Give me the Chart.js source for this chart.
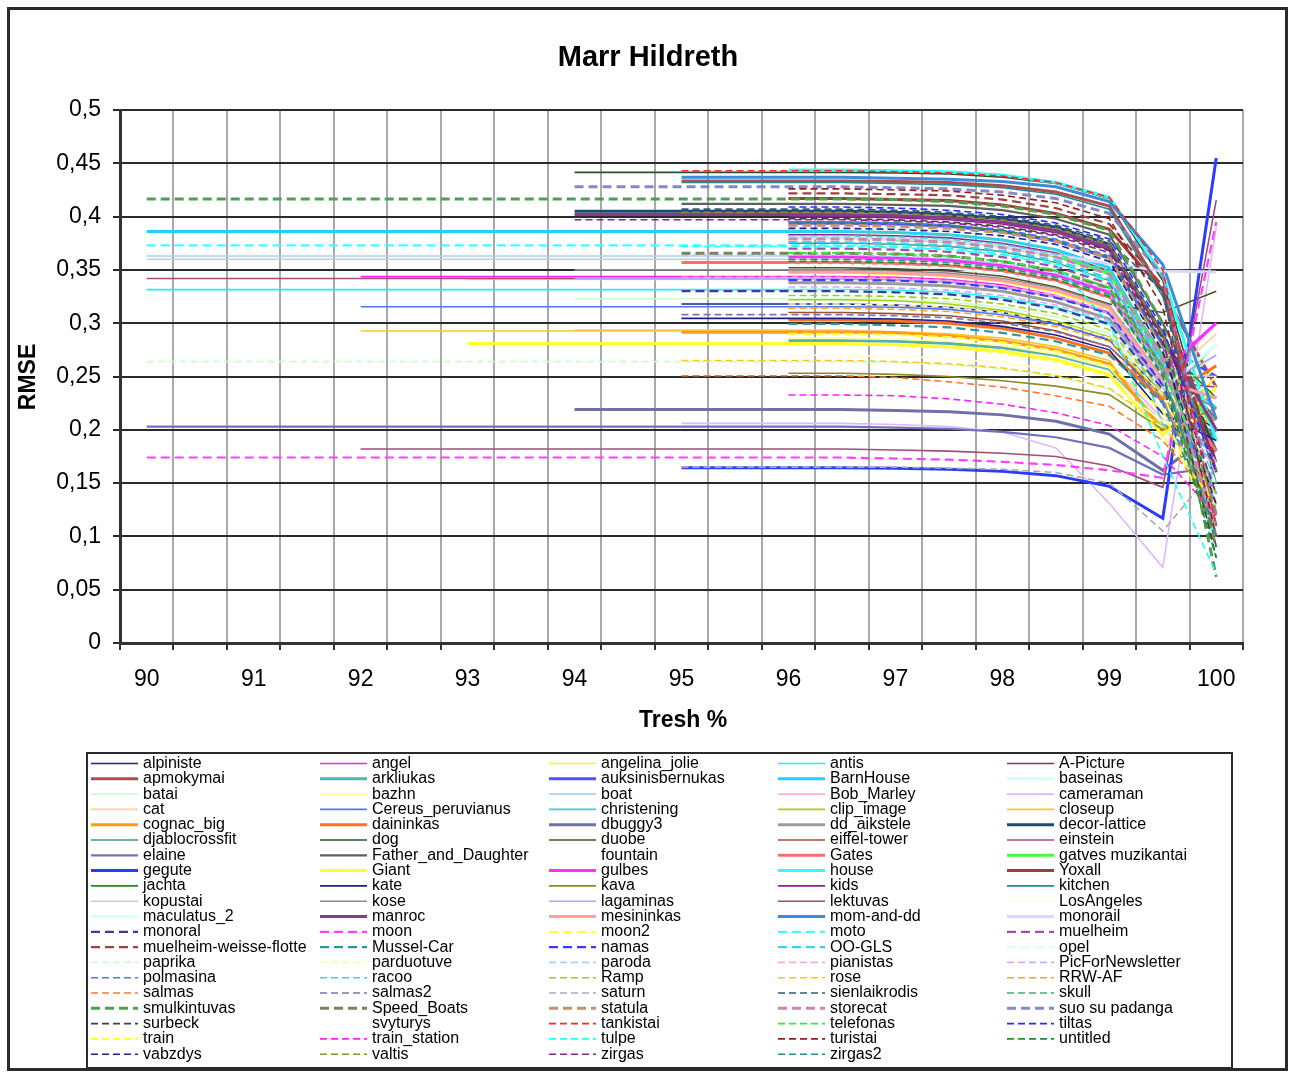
<!DOCTYPE html>
<html>
<head>
<meta charset="utf-8">
<script src="https://cdn.jsdelivr.net/npm/chart.js@4.4.0/dist/chart.umd.min.js"></script>
<style>
  html, body { margin: 0; padding: 0; background: #fff; }
  #wrap { width: 1293px; height: 1073px; position: relative; }
</style>
</head>
<body>
<div id="wrap"><canvas id="chart" width="1293" height="1073"></canvas></div>
<script>
// x categories (threshold %), only whole numbers get a label
const categories = ['90', '90.5', '91', '91.5', '92', '92.5', '93', '93.5', '94', '94.5', '95',
  '95.5', '96', '96.5', '97', '97.5', '98', '98.5', '99', '99.5', '100'];
const yTicks = [0, 0.05, 0.1, 0.15, 0.2, 0.25, 0.3, 0.35, 0.4, 0.45, 0.5];

const seriesNames = [
  'alpiniste', 'angel', 'angelina_jolie', 'antis', 'A-Picture',
  'apmokymai', 'arkliukas', 'auksinisbernukas', 'BarnHouse', 'baseinas',
  'batai', 'bazhn', 'boat', 'Bob_Marley', 'cameraman',
  'cat', 'Cereus_peruvianus', 'christening', 'clip_image', 'closeup',
  'cognac_big', 'daininkas', 'dbuggy3', 'dd_aikstele', 'decor-lattice',
  'djablocrossfit', 'dog', 'duobe', 'eiffel-tower', 'einstein',
  'elaine', 'Father_and_Daughter', 'fountain', 'Gates', 'gatves muzikantai',
  'gegute', 'Giant', 'gulbes', 'house', 'Yoxall',
  'jachta', 'kate', 'kava', 'kids', 'kitchen',
  'kopustai', 'kose', 'lagaminas', 'lektuvas', 'LosAngeles',
  'maculatus_2', 'manroc', 'mesininkas', 'mom-and-dd', 'monorail',
  'monoral', 'moon', 'moon2', 'moto', 'muelheim',
  'muelheim-weisse-flotte', 'Mussel-Car', 'namas', 'OO-GLS', 'opel',
  'paprika', 'parduotuve', 'paroda', 'pianistas', 'PicForNewsletter',
  'polmasina', 'racoo', 'Ramp', 'rose', 'RRW-AF',
  'salmas', 'salmas2', 'saturn', 'sienlaikrodis', 'skull',
  'smulkintuvas', 'Speed_Boats', 'statula', 'storecat', 'suo su padanga',
  'surbeck', 'svyturys', 'tankistai', 'telefonas', 'tiltas',
  'train', 'train_station', 'tulpe', 'turistai', 'untitled',
  'vabzdys', 'valtis', 'zirgas', 'zirgas2'
];

// first threshold that has a value for each series
const startAt = [
  95, 92, 96, 90, 96,   95, 96, 96, 90, 96,   94, 96, 90, 94, 95,   93, 92, 95, 96, 92,
  95, 96, 94, 96, 94,   96, 94, 96, 96, 90,   90, 95, 96, 95, 97,   95, 93, 96, 96, 96,
  96, 95, 96, 96, 95,   90, 94, 94, 92, 96,   96, 94, 96, 95, 96,   95, 90, 96, 90, 96,
  96, 96, 96, 96, 96,   90, 96, 95, 95, 96,   96, 96, 96, 95, 96,   95, 95, 95, 95, 96,
  90, 95, 96, 96, 94,   96, 96, 95, 96, 96,   96, 96, 95, 96, 96,   96, 95, 94, 96
];

// flat RMSE level held from the start up to 96.5
const plateau = [
  0.318, 0.3437, 0.347, 0.3315, 0.383,   0.4334, 0.2836, 0.3937, 0.386, 0.355,
  0.323, 0.286, 0.363, 0.2935, 0.206,   0.341, 0.3155, 0.386, 0.322, 0.2927,
  0.2915, 0.303, 0.219, 0.338, 0.405,   0.375, 0.4415, 0.352, 0.31, 0.342,
  0.203, 0.412, 0.36, 0.357, 0.378,   0.1645, 0.281, 0.362, 0.4437, 0.417,
  0.395, 0.3045, 0.253, 0.4, 0.432,   0.36, 0.35, 0.342, 0.182, 0.27,
  0.33, 0.402, 0.348, 0.437, 0.38,   0.33, 0.174, 0.29, 0.373, 0.37,
  0.4218, 0.2993, 0.3405, 0.376, 0.39,   0.264, 0.318, 0.364, 0.343, 0.334,
  0.395, 0.382, 0.326, 0.265, 0.314,   0.2507, 0.308, 0.165, 0.407, 0.366,
  0.4165, 0.3656, 0.392, 0.379, 0.428,   0.398, 0.355, 0.443, 0.366, 0.409,
  0.28, 0.2326, 0.372, 0.426, 0.358,   0.389, 0.404, 0.397, 0.36
];

// values at 97, 97.5, 98, 98.5, 99, 99.5, 100
const tailLabels = ['97', '97.5', '98', '98.5', '99', '99.5', '100'];
const tails = [
  [0.317, 0.315, 0.310, 0.300, 0.284, 0.235, 0.200],
  [0.343, 0.341, 0.336, 0.326, 0.310, 0.250, 0.300],
  [0.346, 0.344, 0.339, 0.329, 0.313, 0.245, 0.230],
  [0.331, 0.329, 0.324, 0.315, 0.300, 0.240, 0.190],
  [0.382, 0.380, 0.375, 0.366, 0.349, 0.270, 0.210],
  [0.433, 0.432, 0.429, 0.423, 0.410, 0.330, 0.240],
  [0.283, 0.281, 0.277, 0.270, 0.257, 0.205, 0.180],
  [0.393, 0.391, 0.386, 0.377, 0.361, 0.280, 0.250],
  [0.385, 0.383, 0.378, 0.369, 0.352, 0.265, 0.220],
  [0.354, 0.352, 0.347, 0.338, 0.322, 0.250, 0.240],
  [0.322, 0.320, 0.315, 0.306, 0.290, 0.235, 0.270],
  [0.285, 0.283, 0.279, 0.271, 0.258, 0.205, 0.260],
  [0.362, 0.360, 0.355, 0.346, 0.330, 0.255, 0.220],
  [0.292, 0.289, 0.284, 0.276, 0.262, 0.210, 0.200],
  [0.205, 0.203, 0.198, 0.183, 0.131, 0.071, 0.390],
  [0.340, 0.338, 0.333, 0.324, 0.309, 0.245, 0.290],
  [0.315, 0.313, 0.308, 0.299, 0.285, 0.225, 0.150],
  [0.385, 0.383, 0.378, 0.369, 0.345, 0.205, 0.170],
  [0.321, 0.318, 0.312, 0.302, 0.287, 0.230, 0.280],
  [0.292, 0.290, 0.286, 0.278, 0.265, 0.195, 0.250],
  [0.291, 0.288, 0.283, 0.275, 0.262, 0.200, 0.210],
  [0.302, 0.300, 0.295, 0.286, 0.272, 0.228, 0.260],
  [0.218, 0.217, 0.214, 0.208, 0.196, 0.162, 0.200],
  [0.337, 0.335, 0.330, 0.320, 0.304, 0.240, 0.210],
  [0.404, 0.402, 0.398, 0.390, 0.374, 0.290, 0.180],
  [0.374, 0.372, 0.367, 0.357, 0.340, 0.262, 0.190],
  [0.441, 0.440, 0.437, 0.431, 0.417, 0.340, 0.170],
  [0.351, 0.349, 0.344, 0.334, 0.318, 0.310, 0.330],
  [0.309, 0.307, 0.302, 0.293, 0.278, 0.232, 0.230],
  [0.341, 0.339, 0.334, 0.325, 0.309, 0.245, 0.240],
  [0.202, 0.201, 0.198, 0.193, 0.183, 0.158, 0.165],
  [0.411, 0.410, 0.406, 0.398, 0.383, 0.300, 0.200],
  [0.359, 0.357, 0.352, 0.343, 0.327, 0.255, 0.200],
  [0.356, 0.354, 0.349, 0.340, 0.324, 0.255, 0.180],
  [0.378, 0.377, 0.372, 0.363, 0.347, 0.268, 0.200],
  [0.164, 0.163, 0.161, 0.157, 0.147, 0.117, 0.455],
  [0.280, 0.278, 0.274, 0.266, 0.252, 0.195, 0.240],
  [0.361, 0.359, 0.354, 0.345, 0.329, 0.255, 0.300],
  [0.443, 0.442, 0.439, 0.432, 0.418, 0.345, 0.190],
  [0.416, 0.415, 0.411, 0.403, 0.388, 0.330, 0.160],
  [0.394, 0.392, 0.387, 0.378, 0.362, 0.280, 0.230],
  [0.304, 0.302, 0.297, 0.289, 0.275, 0.215, 0.190],
  [0.252, 0.250, 0.246, 0.241, 0.233, 0.200, 0.220],
  [0.399, 0.397, 0.393, 0.385, 0.369, 0.288, 0.170],
  [0.431, 0.430, 0.427, 0.421, 0.407, 0.325, 0.150],
  [0.359, 0.357, 0.352, 0.343, 0.327, 0.252, 0.250],
  [0.349, 0.347, 0.342, 0.333, 0.317, 0.248, 0.220],
  [0.341, 0.339, 0.334, 0.325, 0.309, 0.242, 0.270],
  [0.181, 0.180, 0.178, 0.175, 0.166, 0.146, 0.4155],
  [0.269, 0.267, 0.263, 0.256, 0.244, 0.208, 0.250],
  [0.329, 0.327, 0.322, 0.313, 0.298, 0.238, 0.280],
  [0.401, 0.399, 0.395, 0.387, 0.371, 0.288, 0.200],
  [0.347, 0.345, 0.340, 0.331, 0.315, 0.246, 0.230],
  [0.436, 0.435, 0.433, 0.428, 0.414, 0.355, 0.210],
  [0.379, 0.377, 0.372, 0.364, 0.356, 0.349, 0.348],
  [0.329, 0.327, 0.322, 0.314, 0.299, 0.238, 0.120],
  [0.173, 0.172, 0.170, 0.167, 0.162, 0.155, 0.395],
  [0.289, 0.287, 0.282, 0.274, 0.260, 0.218, 0.100],
  [0.372, 0.370, 0.365, 0.356, 0.339, 0.262, 0.090],
  [0.369, 0.367, 0.362, 0.353, 0.337, 0.258, 0.130],
  [0.421, 0.420, 0.416, 0.408, 0.393, 0.335, 0.110],
  [0.298, 0.296, 0.291, 0.283, 0.270, 0.225, 0.100],
  [0.340, 0.338, 0.333, 0.324, 0.309, 0.242, 0.140],
  [0.375, 0.373, 0.368, 0.359, 0.342, 0.262, 0.120],
  [0.389, 0.387, 0.382, 0.373, 0.357, 0.275, 0.130],
  [0.263, 0.261, 0.257, 0.250, 0.238, 0.202, 0.150],
  [0.317, 0.315, 0.310, 0.301, 0.286, 0.232, 0.130],
  [0.363, 0.361, 0.356, 0.347, 0.331, 0.254, 0.140],
  [0.342, 0.340, 0.335, 0.326, 0.311, 0.245, 0.160],
  [0.333, 0.331, 0.326, 0.317, 0.302, 0.240, 0.170],
  [0.394, 0.392, 0.388, 0.379, 0.363, 0.278, 0.110],
  [0.381, 0.379, 0.374, 0.365, 0.349, 0.268, 0.150],
  [0.325, 0.323, 0.318, 0.309, 0.294, 0.236, 0.130],
  [0.264, 0.262, 0.258, 0.251, 0.239, 0.204, 0.140],
  [0.313, 0.311, 0.306, 0.297, 0.283, 0.230, 0.120],
  [0.249, 0.245, 0.240, 0.232, 0.222, 0.190, 0.130],
  [0.307, 0.305, 0.300, 0.292, 0.278, 0.228, 0.110],
  [0.165, 0.164, 0.163, 0.160, 0.150, 0.105, 0.165],
  [0.406, 0.404, 0.400, 0.392, 0.377, 0.330, 0.090],
  [0.365, 0.363, 0.358, 0.349, 0.333, 0.256, 0.100],
  [0.416, 0.414, 0.410, 0.402, 0.387, 0.300, 0.062],
  [0.365, 0.363, 0.358, 0.349, 0.333, 0.258, 0.090],
  [0.391, 0.389, 0.385, 0.377, 0.361, 0.275, 0.100],
  [0.378, 0.376, 0.371, 0.362, 0.346, 0.266, 0.110],
  [0.427, 0.426, 0.423, 0.417, 0.403, 0.345, 0.120],
  [0.397, 0.395, 0.391, 0.383, 0.368, 0.285, 0.080],
  [0.354, 0.352, 0.347, 0.338, 0.322, 0.250, 0.150],
  [0.442, 0.441, 0.438, 0.432, 0.418, 0.350, 0.110],
  [0.365, 0.363, 0.358, 0.350, 0.334, 0.257, 0.140],
  [0.408, 0.406, 0.402, 0.394, 0.379, 0.295, 0.160],
  [0.279, 0.277, 0.272, 0.264, 0.250, 0.195, 0.130],
  [0.232, 0.229, 0.224, 0.216, 0.204, 0.175, 0.120],
  [0.371, 0.369, 0.364, 0.355, 0.300, 0.175, 0.065],
  [0.425, 0.424, 0.420, 0.413, 0.398, 0.315, 0.100],
  [0.357, 0.355, 0.350, 0.341, 0.325, 0.250, 0.080],
  [0.388, 0.386, 0.382, 0.374, 0.358, 0.273, 0.130],
  [0.403, 0.401, 0.397, 0.389, 0.374, 0.290, 0.120],
  [0.396, 0.394, 0.390, 0.382, 0.366, 0.282, 0.140],
  [0.359, 0.357, 0.352, 0.343, 0.327, 0.252, 0.100]
];

// styles (Excel automatic palette, a bit washed out like the picture)
const lineColors = [
  '#23238c', '#ff20f0', '#f8f820', '#20f0f0', '#8c288c',
  '#a85050', '#5aafaf', '#5050ff', '#20d0ff', '#d8fafa',
  '#ccffcc', '#ffffa0', '#a8d0f8', '#ffb0d8', '#ddb8fa',
  '#ffd0a0', '#4a78ff', '#40d0d0', '#a8d010', '#ffc820',
  '#ff9c10', '#ff7020', '#7070a8', '#9c9c9c', '#204870',
  '#40a070', '#2c502c', '#505028', '#a05030', '#a84c80',
  '#7070c0', '#606060', '#ffffff', '#ff6e6e', '#40ff40',
  '#2a3cff', '#ffff30', '#ff30ff', '#30ffff', '#a03c3c',
  '#208a20', '#20208c', '#8c8c20', '#8c2090', '#208c8c',
  '#cccccc', '#8c8c8c', '#a8a8ff', '#a04c78', '#ffffd0',
  '#d8ffff', '#8a3a8a', '#ffa0a0', '#3c8cdc', '#dad8fa',
  '#3c3ca0', '#ff40ff', '#ffff40', '#40ffff', '#a050a8',
  '#a04040', '#2c9898', '#3c3cff', '#30d4ff', '#d8ffff',
  '#ccffcc', '#ffffa0', '#a8d0ff', '#ffa8d8', '#d4a8ff',
  '#4a78ff', '#40d4d4', '#a0d010', '#ffc810', '#ffa020',
  '#ff7a30', '#7878b0', '#aaaaaa', '#305880', '#48a878',
  '#50a050', '#80805a', '#c8906c', '#c888a8', '#8888c8',
  '#404040', '#ffffff', '#ff2828', '#30f030', '#2828ff',
  '#ffff20', '#ff20ff', '#20ffff', '#902020', '#209020',
  '#202090', '#909020', '#902090', '#209090'
];

function lineWidthFor(i) {
  const n = i + 1;
  if ((n >= 6 && n <= 10) || (n >= 21 && n <= 25) || (n >= 34 && n <= 40) ||
      (n >= 51 && n <= 55) || (n >= 81 && n <= 85)) return 3;
  if (n === 31 || n === 32 || (n >= 56 && n <= 65)) return 2.2;
  return 1.6;
}

function dashFor(i) {
  if (i < 55) return [];
  return lineWidthFor(i) >= 2.2 ? [9, 5] : [7, 4];
}

function buildRow(i) {
  return categories.map(c => {
    const x = Number(c);
    if (x < startAt[i]) return null;
    const t = tailLabels.indexOf(c);
    return t >= 0 ? tails[i][t] : plateau[i];
  });
}

const FONT = '"Liberation Sans", Arial, sans-serif';

const datasets = seriesNames.map((name, i) => ({
  label: name,
  data: buildRow(i),
  borderColor: lineColors[i],
  backgroundColor: lineColors[i],
  borderWidth: lineWidthFor(i),
  borderDash: dashFor(i),
  pointRadius: 0,
  pointHoverRadius: 0,
  tension: 0,
  fill: false,
  spanGaps: false,
  order: seriesNames.length - i
}));

const frameAndText = {
  id: 'frameAndText',
  beforeDraw(chart) {
    const ctx = chart.ctx;
    ctx.save();
    ctx.fillStyle = '#fff';
    ctx.fillRect(0, 0, chart.width, chart.height);
    ctx.restore();
  },
  afterDraw(chart) {
    const ctx = chart.ctx;
    ctx.save();
    ctx.strokeStyle = '#2b2b2b';
    ctx.lineWidth = 3;
    ctx.strokeRect(8.5, 8.5, 1278, 1061);

    ctx.fillStyle = '#000';
    ctx.textAlign = 'center';
    ctx.textBaseline = 'middle';
    ctx.font = 'bold 29px ' + FONT;
    ctx.fillText('Marr Hildreth', 648, 58);

    ctx.font = 'bold 23px ' + FONT;
    ctx.fillText('Tresh %', 683, 721);

    ctx.translate(29, 377);
    ctx.rotate(-Math.PI / 2);
    ctx.fillText('RMSE', 0, 0);
    ctx.restore();

    // legend box, 5 columns filled row by row
    ctx.save();
    ctx.strokeStyle = '#2b2b2b';
    ctx.lineWidth = 2;
    ctx.strokeRect(87, 753, 1145, 315);
    ctx.font = '16px ' + FONT;
    ctx.textAlign = 'left';
    ctx.textBaseline = 'middle';
    chart.data.datasets.forEach((ds, i) => {
      const col = i % 5;
      const row = Math.floor(i / 5);
      const x0 = 91 + col * 229;
      const y = 763.5 + row * 15.3;
      ctx.save();
      ctx.strokeStyle = ds.borderColor;
      ctx.lineWidth = ds.borderWidth;
      ctx.setLineDash(ds.borderDash);
      ctx.beginPath();
      ctx.moveTo(x0, y);
      ctx.lineTo(x0 + 47, y);
      ctx.stroke();
      ctx.restore();
      ctx.fillStyle = '#000';
      ctx.fillText(ds.label, x0 + 52, y);
    });
    ctx.restore();
  }
};

new Chart(document.getElementById('chart').getContext('2d'), {
  type: 'line',
  data: { labels: categories, datasets },
  options: {
    responsive: false,
    animation: false,
    devicePixelRatio: 1,
    layout: { padding: { top: 110, right: 50, bottom: 370, left: 0 } },
    plugins: {
      legend: { display: false },
      title: { display: false },
      tooltip: { enabled: false }
    },
    scales: {
      x: {
        type: 'category',
        offset: true,
        grid: {
          offset: true,
          color: '#a9a9a9',
          lineWidth: 2,
          drawTicks: true,
          tickLength: 7,
          tickColor: '#333'
        },
        border: { display: true, color: '#333', width: 3 },
        ticks: {
          autoSkip: false,
          maxRotation: 0,
          padding: 16,
          color: '#000',
          font: { family: FONT, size: 23 },
          callback: (v, i) => (Number.isInteger(Number(categories[i])) ? categories[i] : '')
        },
        afterFit: s => { s.height = 60; }
      },
      y: {
        min: 0,
        max: 0.5,
        grid: {
          color: '#2b2b2b',
          lineWidth: 2,
          drawTicks: true,
          tickLength: 7,
          tickColor: '#2b2b2b'
        },
        border: { display: true, color: '#333', width: 3 },
        afterBuildTicks: s => { s.ticks = yTicks.map(v => ({ value: v })); },
        ticks: {
          padding: 12,
          color: '#000',
          font: { family: FONT, size: 23 },
          callback: v => String(Math.round(v * 100) / 100).replace('.', ',')
        },
        afterFit: s => { s.width = 120; }
      }
    }
  },
  plugins: [frameAndText]
});
</script>
</body>
</html>
